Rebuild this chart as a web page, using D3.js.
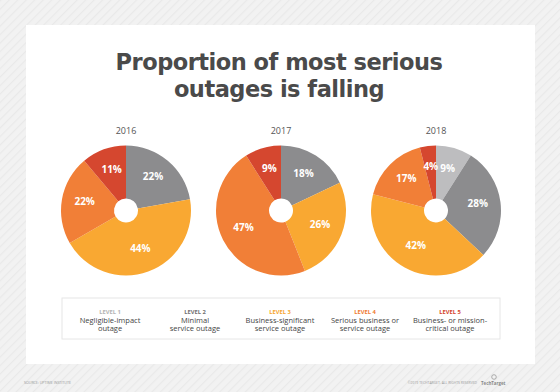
<!DOCTYPE html>
<html><head><meta charset="utf-8">
<script src="https://cdn.jsdelivr.net/npm/d3@7"></script>
<style>body{margin:0;background:#f3f3f3}svg{display:block}</style>
</head><body><svg id="c" width="560" height="392"></svg>
<script>
const years = ["2016", "2017", "2018"];
const levels = ["LEVEL 1", "LEVEL 2", "LEVEL 3", "LEVEL 4", "LEVEL 5"];
const levelDesc = [
  ["Negligible-impact", "outage"],
  ["Minimal", "service outage"],
  ["Business-significant", "service outage"],
  ["Serious business or", "service outage"],
  ["Business- or mission-", "critical outage"]
];
const values2016 = [0, 22, 44, 22, 11];
const values2017 = [0, 18, 26, 47, 9];
const values2018 = [9, 28, 42, 17, 4];
const seriesValues = [values2016, values2017, values2018];
const sliceColors = ["#bdbdbf", "#8c8c8e", "#f9a832", "#f17f37", "#d5472f"];
const levelTextColors = ["#b4b4b4", "#707070", "#f7a52e", "#f07c33", "#d4442c"];

const svg = d3.select("#c");
const defs = svg.append("defs");
const pat = defs.append("pattern").attr("id","stripes").attr("patternUnits","userSpaceOnUse")
  .attr("width",6).attr("height",6).attr("patternTransform","rotate(45)");
pat.append("rect").attr("width",6).attr("height",6).attr("fill","#f2f2f2");
pat.append("rect").attr("width",1.2).attr("height",6).attr("fill","#e9e9e9");
svg.append("rect").attr("width",560).attr("height",392).attr("fill","url(#stripes)");
svg.append("rect").attr("x",26).attr("y",25).attr("width",509).attr("height",339).attr("fill","#fff");

const title = svg.append("text").attr("text-anchor","middle")
  .attr("font-family","DejaVu Sans").attr("font-weight","bold").attr("font-size",22.5)
  .attr("fill","#4a4a4a").style("letter-spacing","-0.5px");
title.append("tspan").attr("x",279).attr("y",70).text("Proportion of most serious");
title.append("tspan").attr("x",279).attr("y",97).text("outages is falling");

const x = d3.scalePoint().domain(years).range([126, 436]);
const cy = 210.5, R = 65, r0 = 12, rLabel = 42;
const pie = d3.pie().sort(null).value(d => d.v);
const arc = d3.arc().innerRadius(r0).outerRadius(R);

years.forEach((yr, i) => {
  const g = svg.append("g").attr("transform", `translate(${x(yr)},${cy})`);
  const data = seriesValues[i].map((v, k) => ({v, k}));
  const arcs = pie(data);
  g.selectAll("path").data(arcs).join("path")
    .attr("d", arc).attr("fill", d => sliceColors[d.data.k]);
  g.selectAll("text.p").data(arcs.filter(d => d.data.v > 0)).join("text")
    .attr("class","p")
    .attr("transform", d => {
      const a = (d.startAngle + d.endAngle) / 2;
      return `translate(${Math.sin(a)*rLabel},${-Math.cos(a)*rLabel - 2})`;
    })
    .attr("text-anchor","middle").attr("dy","0.36em")
    .attr("font-family","Open Sans").attr("font-weight","bold").attr("font-size",10)
    .attr("fill","#fff").text(d => d.data.v + "%");
  svg.append("text").attr("x", x(yr)).attr("y", 134).attr("text-anchor","middle")
    .attr("font-family","Open Sans").attr("font-size",9).attr("fill","#555").text(yr);
});

svg.append("rect").attr("x",62).attr("y",298).attr("width",438).attr("height",41)
  .attr("fill","#fff").attr("stroke","#e6e6e6").attr("stroke-width",1);
const lx = d3.scalePoint().domain(levels).range([110, 450]);
levels.forEach((lv, i) => {
  svg.append("text").attr("x", lx(lv)).attr("y", 314).attr("text-anchor","middle")
    .attr("font-family","Open Sans").attr("font-weight","bold").attr("font-size",5.8)
    .attr("fill", levelTextColors[i]).text(lv);
  levelDesc[i].forEach((t, j) => {
    svg.append("text").attr("x", lx(lv)).attr("y", 322.5 + j*8.5).attr("text-anchor","middle")
      .attr("font-family","Open Sans").attr("font-size",7.5).attr("fill","#444").text(t);
  });
});

svg.append("text").attr("x",24).attr("y",384).attr("font-family","Open Sans")
  .attr("font-size",3.6).attr("fill","#999").text("SOURCE: UPTIME INSTITUTE");
svg.append("text").attr("x",477).attr("y",384).attr("text-anchor","end").attr("font-family","Open Sans")
  .attr("font-size",3.4).attr("fill","#999").text("©2019 TECHTARGET. ALL RIGHTS RESERVED");
svg.append("text").attr("x",481).attr("y",384.5).attr("font-family","Open Sans")
  .attr("font-weight","bold").attr("font-size",4.4).attr("fill","#888").text("TechTarget");
svg.append("circle").attr("cx",494).attr("cy",377).attr("r",2.3).attr("fill","none").attr("stroke","#999").attr("stroke-width",0.8);
</script></body></html>
